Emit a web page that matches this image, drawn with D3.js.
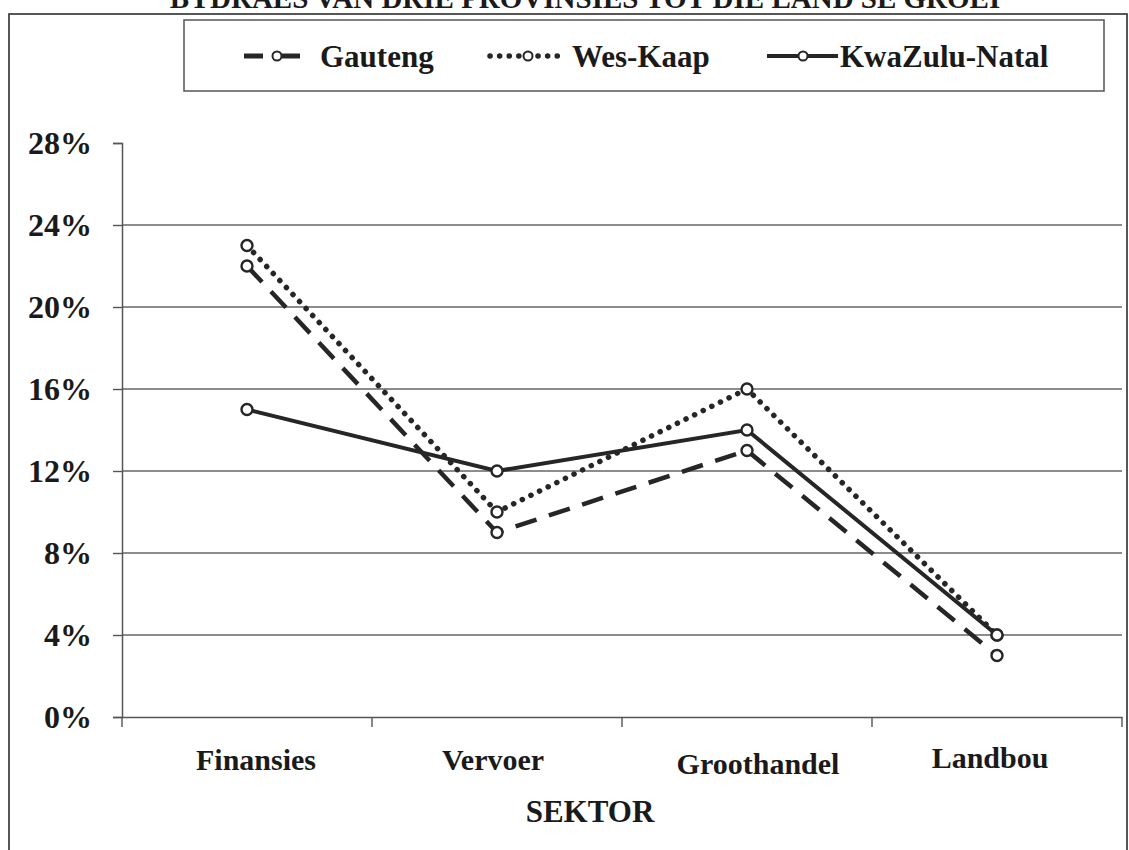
<!DOCTYPE html>
<html>
<head>
  <meta charset="UTF-8">
  <title>Bydraes van drie provinsies</title>
  <script src="https://cdn.jsdelivr.net/npm/d3@7"></script>
  <style>
    body { margin: 0; background: #fff; }
    svg text { font-family: "Liberation Serif", "Times New Roman", serif !important; font-weight: bold; fill: #1a1a1a; }
  </style>
</head>
<body>
<svg id="chart" width="1129" height="850"></svg>
<script>
// data
const sectors = ['Finansies', 'Vervoer', 'Groothandel', 'Landbou'];
const gauteng = [22, 9, 13, 3];
const wesKaap = [23, 10, 16, 4];
const kzn = [15, 12, 14, 4];
const yTicks = [0, 4, 8, 12, 16, 20, 24, 28];
const seriesNames = ['Gauteng', 'Wes-Kaap', 'KwaZulu-Natal'];

const series = [
  {name: seriesNames[0], values: gauteng, dash: '22 13', width: 4.5, cap: 'butt'},
  {name: seriesNames[1], values: wesKaap, dash: '0.1 9.5', width: 5.5, cap: 'round'},
  {name: seriesNames[2], values: kzn, dash: null, width: 4, cap: 'butt'}
];

const svg = d3.select('#chart');
const ink = '#262626';

// title (cut off at top, as in the scan)
svg.append('text')
  .attr('x', 585).attr('y', 8)
  .attr('text-anchor', 'middle')
  .style('font-size', '29px')
  .text('BYDRAES VAN DRIE PROVINSIES TOT DIE LAND SE GROEI');

// outer frame
svg.append('rect')
  .attr('x', 9).attr('y', 14).attr('width', 1118).attr('height', 860)
  .attr('fill', 'none').attr('stroke', '#444').attr('stroke-width', 1.8);

const x = d3.scaleBand().domain(sectors).range([122, 1122]);
const y = d3.scaleLinear().domain([0, 28]).range([717, 143]);

// gridlines
svg.append('g').selectAll('line')
  .data(yTicks.filter(d => d > 0 && d < 28))
  .join('line')
  .attr('x1', 122).attr('x2', 1122)
  .attr('y1', d => y(d)).attr('y2', d => y(d))
  .attr('stroke', '#666').attr('stroke-width', 1.5);

// y axis
const yAxis = svg.append('g')
  .attr('transform', 'translate(122,0)')
  .call(d3.axisLeft(y).tickValues(yTicks).tickSize(9).tickPadding(21).tickFormat(d => d + '%'));
yAxis.select('.domain').attr('stroke', '#555').attr('stroke-width', 1.5);
yAxis.selectAll('.tick line').attr('stroke', '#555').attr('stroke-width', 1.4);
yAxis.selectAll('text')
  .style('font-size', '32px')
  .attr('fill', '#1a1a1a');

// x axis
const xAxis = svg.append('g')
  .attr('transform', 'translate(0,717)')
  .call(d3.axisBottom(x).tickSize(0).tickFormat(''));
xAxis.select('.domain').attr('stroke', '#555').attr('stroke-width', 1.5);
svg.append('g').selectAll('line')
  .data(d3.range(sectors.length + 1))
  .join('line')
  .attr('x1', i => 122 + i * x.step()).attr('x2', i => 122 + i * x.step())
  .attr('y1', 717).attr('y2', 727)
  .attr('stroke', '#555').attr('stroke-width', 1.4);

const labelShift = [9, -4, 11, -7];
const labelDrop = [0, 0, 4, -2];
svg.append('g').selectAll('text')
  .data(sectors)
  .join('text')
  .attr('x', (d, i) => x(d) + x.bandwidth() / 2 + labelShift[i])
  .attr('y', (d, i) => 770 + labelDrop[i])
  .attr('text-anchor', 'middle')
  .style('font-size', '30px')
  .text(d => d);

svg.append('text')
  .attr('x', 590).attr('y', 822)
  .attr('text-anchor', 'middle')
  .style('font-size', '31px')
  .text('SEKTOR');

// lines
const line = d3.line()
  .x((d, i) => x(sectors[i]) + x.bandwidth() / 2)
  .y(d => y(d));

series.forEach(s => {
  svg.append('path')
    .datum(s.values)
    .attr('d', line)
    .attr('fill', 'none')
    .attr('stroke', ink)
    .attr('stroke-width', s.width)
    .attr('stroke-linecap', s.cap)
    .attr('stroke-dasharray', s.dash);
  svg.append('g').selectAll('circle')
    .data(s.values)
    .join('circle')
    .attr('cx', (d, i) => x(sectors[i]) + x.bandwidth() / 2)
    .attr('cy', d => y(d))
    .attr('r', 5.5)
    .attr('fill', '#fff')
    .attr('stroke', ink)
    .attr('stroke-width', 2.4);
});

// legend
const legend = svg.append('g');
legend.append('rect')
  .attr('x', 184).attr('y', 20).attr('width', 920).attr('height', 71)
  .attr('fill', '#fff').attr('stroke', '#555').attr('stroke-width', 1.5);

const legendItems = [
  {x1: 244, x2: 300, cx: 277, tx: 320},
  {x1: 490, x2: 564, cx: 528, tx: 572},
  {x1: 767, x2: 838, cx: 803, tx: 840}
];
legendItems.forEach((p, i) => {
  const s = series[i];
  const g = legend.append('g');
  if (i === 0) {
    g.append('line').attr('x1', p.x1).attr('x2', 263).attr('y1', 56).attr('y2', 56)
      .attr('stroke', ink).attr('stroke-width', 5);
    g.append('line').attr('x1', 282).attr('x2', p.x2).attr('y1', 56).attr('y2', 56)
      .attr('stroke', ink).attr('stroke-width', 5);
  } else {
    g.append('line').attr('x1', p.x1).attr('x2', p.x2).attr('y1', 56).attr('y2', 56)
      .attr('stroke', ink).attr('stroke-width', s.width)
      .attr('stroke-linecap', s.cap)
      .attr('stroke-dasharray', s.dash);
  }
  g.append('circle').attr('cx', p.cx).attr('cy', 56).attr('r', 4.5)
    .attr('fill', '#fff').attr('stroke', ink).attr('stroke-width', 2);
  g.append('text').attr('x', p.tx).attr('y', 67)
    .style('font-size', '31px')
    .text(s.name);
});
</script>
</body>
</html>
